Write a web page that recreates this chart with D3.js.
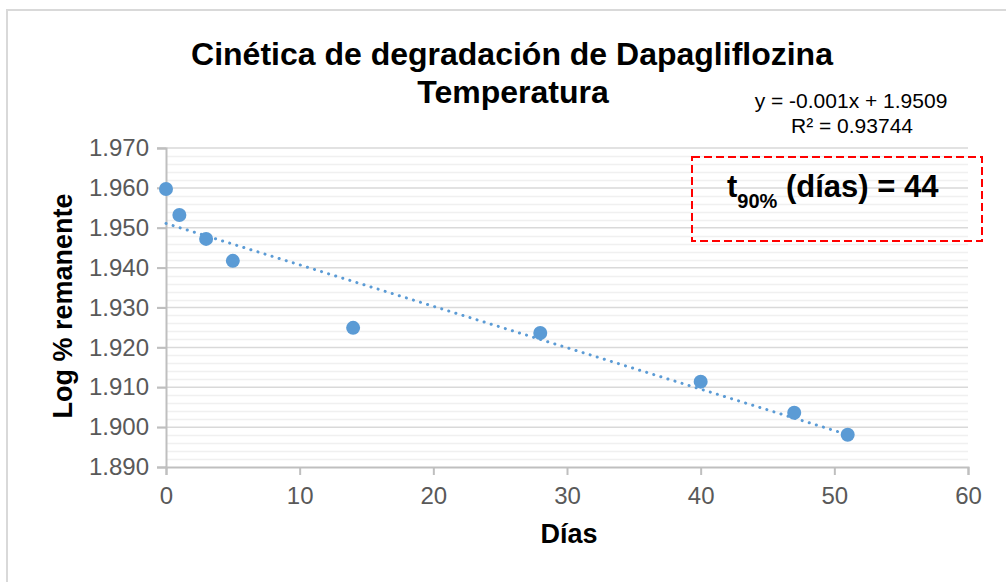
<!DOCTYPE html>
<html>
<head>
<meta charset="utf-8">
<script src="https://cdnjs.cloudflare.com/ajax/libs/d3/7.8.5/d3.min.js"></script>
<style>
  html, body { margin: 0; padding: 0; background: #fff; }
  svg { display: block; font-family: "Liberation Sans", Arial, sans-serif; }
</style>
</head>
<body>
<svg id="chart" width="1006" height="582"></svg>
<script>
//
// Data
//
var dias = [0, 1, 3, 5, 14, 28, 40, 47, 51]
var logRemanente = [1.9597, 1.9532, 1.9472, 1.9417, 1.9249, 1.9236, 1.9114, 1.9036, 1.8981]
var xTicks = [0, 10, 20, 30, 40, 50, 60]
var yTicks = [1.890, 1.900, 1.910, 1.920, 1.930, 1.940, 1.950, 1.960, 1.970]
var titleLines = ['Cinética de degradación de Dapagliflozina', 'Temperatura']
var eqLines = ['y = -0.001x + 1.9509', 'R² = 0.93744']
var t90 = 44

// colors
var colorPoint = '#5b9bd5'
var colorAxis = '#bfbfbf'
var colorMajor = '#d9d9d9'
var colorMinor = '#f0f0f0'
var colorTick = '#595959'
var fontFam = '"Liberation Sans", Arial, sans-serif'

var svg = d3.select('#chart')

// outer chart border (only left/top visible)
svg.append('path')
    .attr('d', 'M7,582 L7,10 L1006,10')
    .attr('fill', 'none')
    .attr('stroke', '#d9d9d9')
    .attr('stroke-width', 2)

var x = d3.scaleLinear().domain([0, 60]).range([166, 968])
var y = d3.scaleLinear().domain([1.890, 1.970]).range([467, 148])

// minor gridlines
var minor = d3.range(1.890, 1.9701, 0.002).filter(function (v) {
    return Math.abs(Math.round(v * 100) - v * 100) > 0.01
})
svg.append('g').selectAll('line').data(minor).enter().append('line')
    .attr('x1', x(0)).attr('x2', x(60))
    .attr('y1', function (d) { return Math.round(y(d)) + 0.5 })
    .attr('y2', function (d) { return Math.round(y(d)) + 0.5 })
    .attr('stroke', colorMinor).attr('stroke-width', 1.5)

// major gridlines
svg.append('g').selectAll('line').data(yTicks.slice(1)).enter().append('line')
    .attr('x1', x(0) - 9).attr('x2', x(60))
    .attr('y1', function (d) { return y(d) })
    .attr('y2', function (d) { return y(d) })
    .attr('stroke', colorMajor).attr('stroke-width', 1.5)

// y axis
var yAxis = svg.append('g')
    .attr('transform', 'translate(' + x(0) + ',0)')
    .call(d3.axisLeft(y).tickValues(yTicks).tickFormat(d3.format('.3f')).tickSize(9).tickPadding(8))
yAxis.select('.domain').attr('stroke', colorAxis).attr('stroke-width', 2)
yAxis.selectAll('.tick line').attr('stroke', colorAxis).attr('stroke-width', 2)
yAxis.selectAll('.tick text')
    .attr('fill', colorTick).style('font-size', '24px')
    .style('font-family', fontFam)

// x axis
var xAxis = svg.append('g')
    .attr('transform', 'translate(0,' + y(1.890) + ')')
    .call(d3.axisBottom(x).tickValues(xTicks).tickSize(8).tickPadding(12))
xAxis.select('.domain').attr('stroke', colorAxis).attr('stroke-width', 2)
xAxis.selectAll('.tick line').attr('stroke', colorAxis).attr('stroke-width', 2)
xAxis.selectAll('.tick text')
    .attr('fill', colorTick).style('font-size', '24px')
    .style('font-family', fontFam)

// linear trendline (least squares on data)
var n = dias.length
var mx = d3.mean(dias), my = d3.mean(logRemanente)
var sxy = 0, sxx = 0
for (var i = 0; i < n; i++) {
    sxy += (dias[i] - mx) * (logRemanente[i] - my)
    sxx += (dias[i] - mx) * (dias[i] - mx)
}
var slope = sxy / sxx
var intercept = my - slope * mx
var xMin = d3.min(dias), xMax = d3.max(dias)

svg.append('line')
    .attr('x1', x(xMin)).attr('y1', y(intercept + slope * xMin))
    .attr('x2', x(xMax)).attr('y2', y(intercept + slope * xMax))
    .attr('stroke', colorPoint)
    .attr('stroke-width', 3)
    .attr('stroke-linecap', 'round')
    .attr('stroke-dasharray', '0.1 7.3')

// points
svg.append('g').selectAll('circle').data(dias).enter().append('circle')
    .attr('cx', function (d) { return x(d) })
    .attr('cy', function (d, i) { return y(logRemanente[i]) })
    .attr('r', 7)
    .attr('fill', colorPoint)

// title
svg.append('text')
    .attr('x', 512).attr('y', 65)
    .attr('text-anchor', 'middle')
    .style('font-size', '32px').style('font-weight', 'bold')
    .text(titleLines[0])
svg.append('text')
    .attr('x', 513).attr('y', 103)
    .attr('text-anchor', 'middle')
    .style('font-size', '32px').style('font-weight', 'bold')
    .text(titleLines[1])

// trendline equation
svg.append('text')
    .attr('x', 851).attr('y', 108)
    .attr('text-anchor', 'middle')
    .style('font-size', '21px')
    .text(eqLines[0])
svg.append('text')
    .attr('x', 852).attr('y', 133)
    .attr('text-anchor', 'middle')
    .style('font-size', '21px')
    .text(eqLines[1])

// t90 box
svg.append('rect')
    .attr('x', 692).attr('y', 157)
    .attr('width', 290).attr('height', 84)
    .attr('fill', 'none')
    .attr('stroke', '#ff0000')
    .attr('stroke-width', 2)
    .attr('stroke-dasharray', '8 4')

var t = svg.append('text')
    .attr('x', 727).attr('y', 197)
    .style('font-size', '31px').style('font-weight', 'bold')
t.append('tspan').text('t')
t.append('tspan').attr('dy', 11).style('font-size', '20px').text('90%')
t.append('tspan').attr('dy', -11).text(' (días) = ' + t90)

// axis titles
svg.append('text')
    .attr('x', 569).attr('y', 543)
    .attr('text-anchor', 'middle')
    .style('font-size', '27px').style('font-weight', 'bold')
    .text('Días')
svg.append('text')
    .attr('transform', 'translate(72,306) rotate(-90)')
    .attr('text-anchor', 'middle')
    .style('font-size', '27px').style('font-weight', 'bold')
    .text('Log % remanente')
</script>
</body>
</html>
